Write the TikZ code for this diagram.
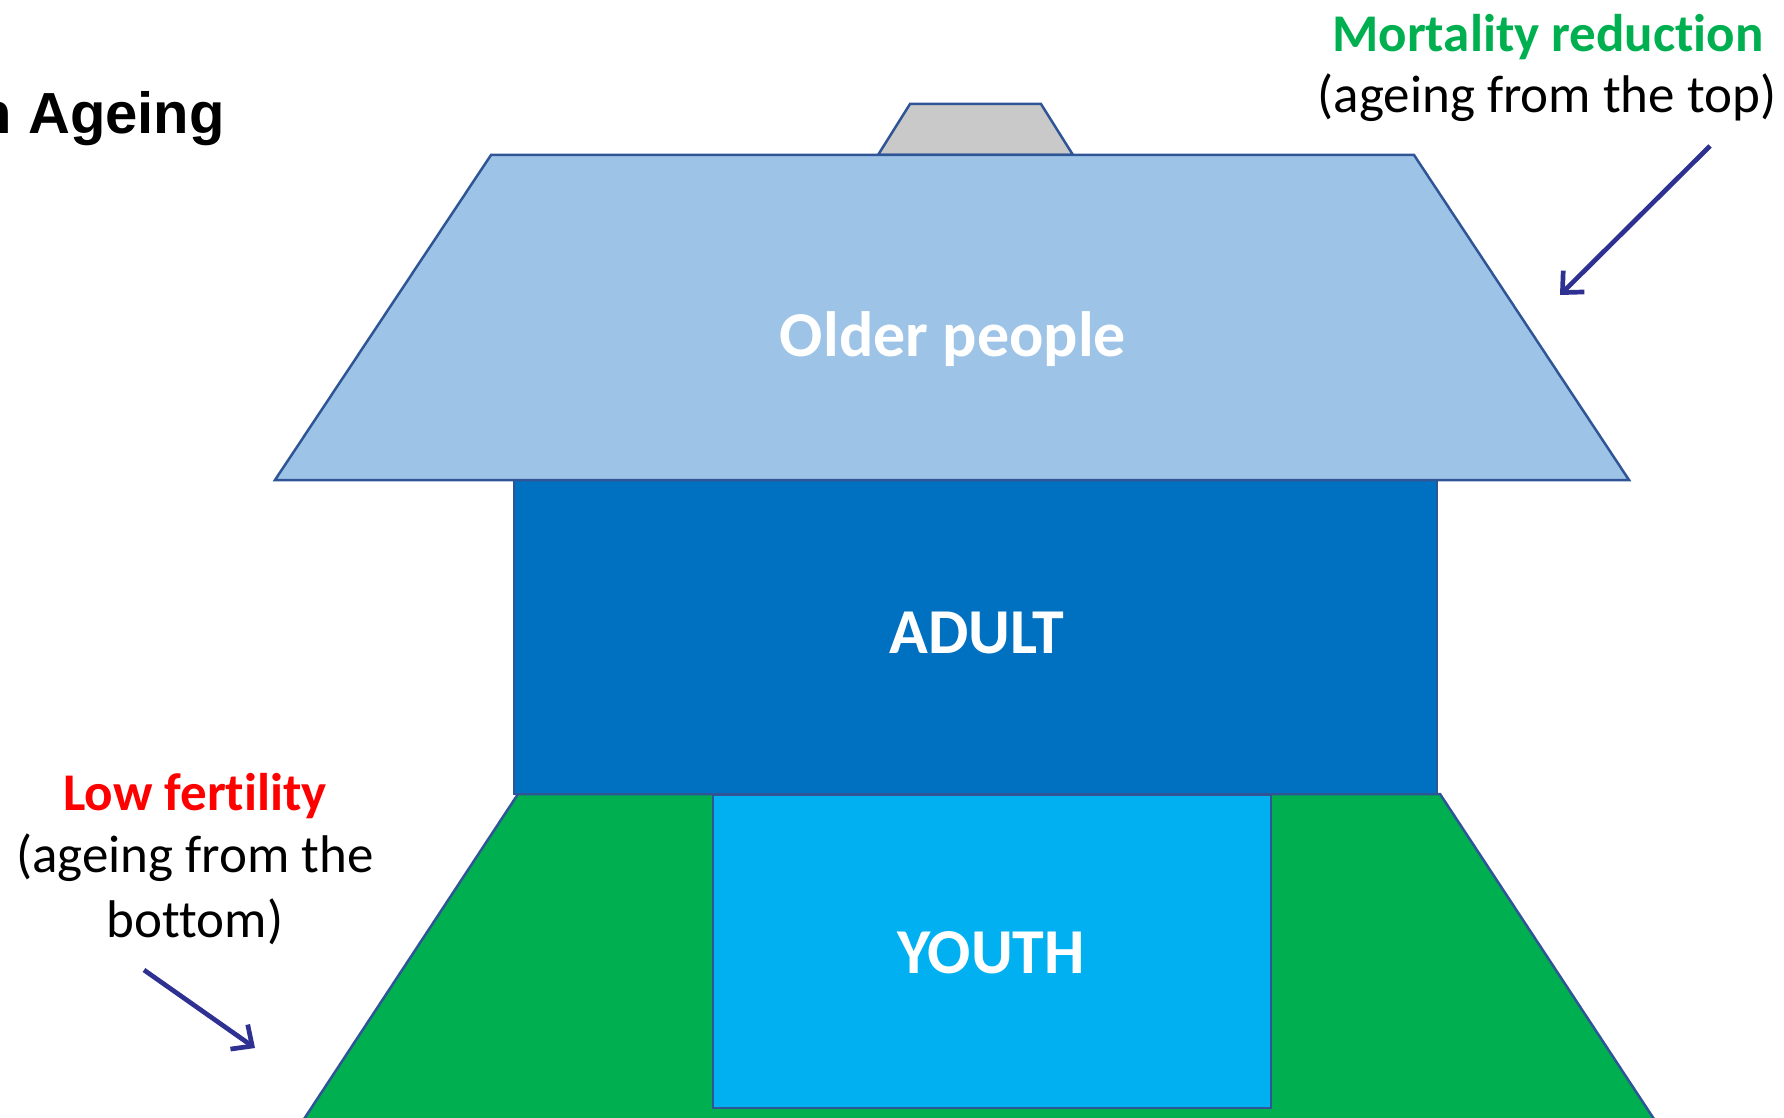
\documentclass[tikz,border=0pt]{standalone}
\usepackage{fontspec}
\setmainfont{Carlito}[Ligatures=NoCommon]
\newfontfamily\arialfont{Liberation Sans}
\usetikzlibrary{arrows.meta}
\definecolor{roofc}{HTML}{9DC3E6}
\definecolor{adultc}{HTML}{0070C0}
\definecolor{youthc}{HTML}{00B0F0}
\definecolor{greenc}{HTML}{00B050}
\definecolor{chimc}{HTML}{C9C9C9}
\definecolor{edgec}{HTML}{2F5597}
\definecolor{arrowc}{RGB}{46,49,146}
\definecolor{redc}{HTML}{FF0000}
\begin{document}
\begin{tikzpicture}[x=1pt,y=-1pt,
  block/.style={draw=edgec, line width=2.5pt, line join=miter},
  inlabel/.style={inner sep=0pt, anchor=base, text=white, font=\bfseries\fontsize{64}{77}\selectfont},
  sidehead/.style={inner sep=0pt, anchor=base, font=\bfseries\fontsize{53}{64}\selectfont},
  sidetext/.style={inner sep=0pt, anchor=base, text=black, font=\fontsize{53}{64}\selectfont},
  pointer/.style={draw=arrowc, line width=4.7pt, -{Straight Barb[length=16pt,width=30pt,line width=4.7pt]}}
]
\useasboundingbox (0,0) rectangle (1784,1118);
\clip (0,0) rectangle (1784,1118);
% green base trapezoid
\path[block, fill=greenc] (518,794) -- (1440,794) -- (1706,1198) -- (252,1198) -- cycle;
% youth
\path[block, fill=youthc] (713,795) rectangle (1271,1108);
% adult
\path[block, fill=adultc] (514,480) rectangle (1437,794);
% chimney
\path[block, fill=chimc] (878,155) -- (910,104) -- (1041,104) -- (1073,155) -- cycle;
% roof
\path[block, fill=roofc] (491,155) -- (1414,155) -- (1629,480) -- (275,480) -- cycle;
% labels
\node[inlabel] (older) at (953,356) {Older people};
\node[inlabel] (adult) at (977,653) {ADULT};
\node[inlabel] (youth) at (991,973) {YOUTH};
% title
\node[inner sep=0pt, anchor=base east, font=\arialfont\bfseries\fontsize{58}{69}\selectfont] (title) at (225,134) {n Ageing};
% right annotation
\node[sidehead, text=greenc] (mort) at (1548,52) {Mortality reduct\kern0pt ion};
\node[sidetext] (morttxt) at (1547,113) {(ageing from the top)};
% left annotation
\node[sidehead, text=redc] (fert) at (195,810) {Low fert\kern0pt ility};
\node[sidetext] (fert1) at (195,872) {(ageing from the};
\node[sidetext] (fert2) at (195,937) {bottom)};
% arrows
\coordinate (a1s) at (1710,146);
\coordinate (a1e) at (1560,295);
\coordinate (a2s) at (144,970);
\coordinate (a2e) at (255,1048);
\draw[pointer] (a1s) -- (a1e);
\draw[pointer] (a2s) -- (a2e);
\end{tikzpicture}
\end{document}
